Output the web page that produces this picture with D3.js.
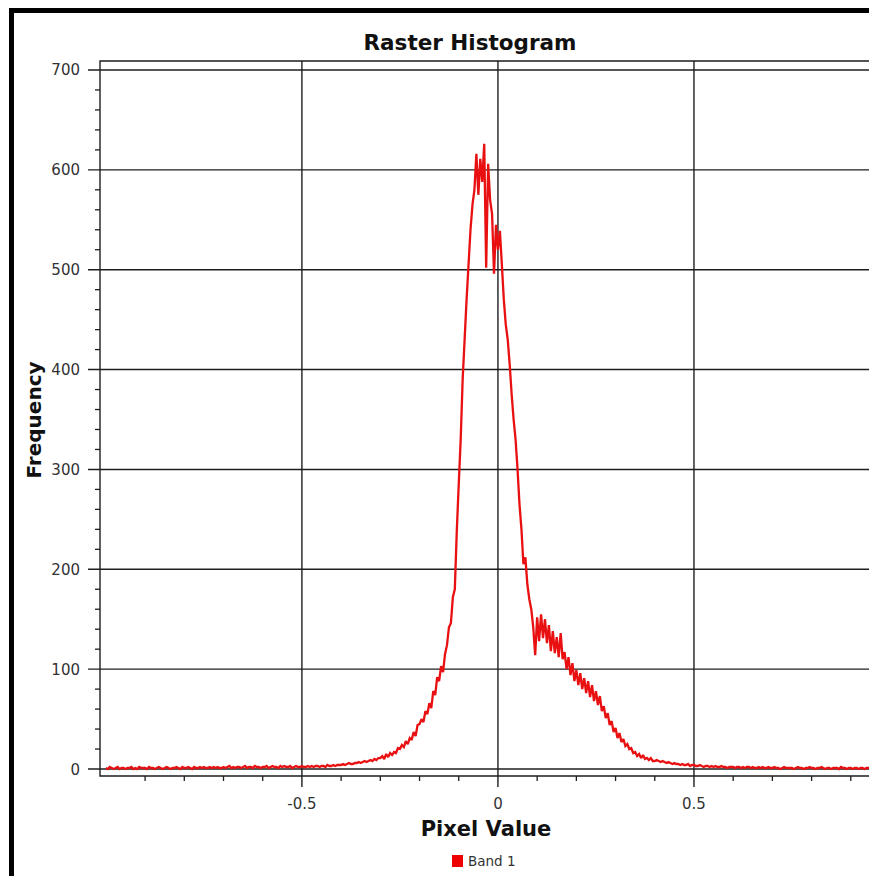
<!DOCTYPE html>
<html><head><meta charset="utf-8">
<script src="https://cdn.jsdelivr.net/npm/d3@7"></script>
<style>body{margin:0;background:#fff}svg{display:block}</style>
</head><body><svg id="c" width="869" height="876"></svg>
<script>
const title = "Raster Histogram";
const xLabel = "Pixel Value";
const yLabel = "Frequency";
const seriesName = "Band 1";
const xMajorTicks = [-0.5, 0, 0.5, 1.0];
const xLabelTicks = [-0.5, 0, 0.5];
const xTickLabels = ["-0.5", "0", "0.5"];
const xMinorTicks = [-0.9,-0.8,-0.7,-0.6,-0.4,-0.3,-0.2,-0.1,0.1,0.2,0.3,0.4,0.6,0.7,0.8,0.9];
const yMajorTicks = [0,100,200,300,400,500,600,700];
const yTickLabels = ["0","100","200","300","400","500","600","700"];
const yMinorTicks = [20,40,60,80,120,140,160,180,220,240,260,280,320,340,360,380,420,440,460,480,520,540,560,580,620,640,660,680];
const binStart = -1.0;
const binWidth = 0.005;
const counts = [
1,0,2,1,0,1,2,0,1,1,
0,1,1,2,0,1,0,2,1,1,
1,0,2,1,1,0,1,2,1,0,
1,2,1,0,1,1,2,1,0,2,
1,1,2,1,0,2,1,1,2,1,
2,1,1,2,1,2,1,2,1,1,
2,1,2,3,1,2,1,2,2,1,
2,3,1,2,2,1,3,2,2,1,
2,2,3,1,2,3,2,2,1,3,
2,3,2,2,3,1,2,3,2,2,
3,2,2,3,2,3,2,3,3,2,
3,3,2,4,3,3,4,3,4,4,
4,5,4,5,6,5,5,6,6,7,
6,7,8,7,8,9,8,10,9,11,
11,13,10,15,12,16,14,17,16,21,
20,24,22,28,25,31,29,37,33,44,
45,50,47,58,55,66,61,78,74,92,
88,103,97,115,124,142,146,172,180,238,
285,330,390,430,470,505,540,565,580,616,
575,611,588,626,502,606,570,556,496,545,
520,539,505,470,445,430,405,375,350,330,
300,265,240,205,212,185,170,160,142,114,
152,128,155,131,150,126,144,118,138,116,
132,112,136,110,117,100,112,94,106,88,
99,84,96,80,91,76,88,72,84,68,
78,64,73,58,63,51,56,44,48,37,
41,31,36,27,30,23,25,20,21,16,
17,13,15,11,14,10,11,9,11,8,
8,9,8,7,8,7,6,7,6,5,
6,5,5,4,5,4,4,5,3,4,
4,3,3,4,3,2,3,3,2,3,
2,3,2,2,3,2,2,1,2,2,
2,1,2,2,1,2,1,2,2,1,
2,1,1,2,1,2,1,1,2,1,
1,2,1,1,0,1,2,1,1,1,
1,0,1,2,1,1,0,1,1,2,
1,1,0,1,1,2,1,0,1,1,
0,1,1,1,0,2,1,1,0,1,
1,0,1,1,0,1,1,0,1,1,
0,1,1,0,1,0,1,1,0,1
];
const data = counts.map((c, i) => ({x: binStart + i * binWidth, y: c}));

const svg = d3.select("#c");
const W = 869, H = 876;
const pLeft = 100, pTop = 61, pBottom = 776, pRight = 890;
const x = d3.scaleLinear().domain([-1.015, 1.0]).range([pLeft, pRight]);
const y = d3.scaleLinear().domain([-7, 709]).range([pBottom, pTop]);
const gridColor = "#1e1e1e";
const font = "'DejaVu Sans', Verdana, sans-serif";

svg.append("rect").attr("width", W).attr("height", H).attr("fill", "#fff");

svg.append("path").attr("d", `M11.5,${H + 10}V10.5H${W + 10}`)
  .attr("fill", "none").attr("stroke", "#000").attr("stroke-width", 5);

const g = svg.append("g");

g.selectAll(".hg").data(yMajorTicks).join("line")
  .attr("x1", pLeft - 12).attr("x2", W + 5)
  .attr("y1", d => y(d)).attr("y2", d => y(d))
  .attr("stroke", gridColor).attr("stroke-width", 1.4);
g.selectAll(".vg").data(xMajorTicks).join("line")
  .attr("x1", d => x(d)).attr("x2", d => x(d))
  .attr("y1", pTop).attr("y2", pBottom + 11)
  .attr("stroke", gridColor).attr("stroke-width", 1.4);
g.selectAll(".xm").data(xMinorTicks).join("line")
  .attr("x1", d => x(d)).attr("x2", d => x(d))
  .attr("y1", pBottom).attr("y2", pBottom + 5)
  .attr("stroke", gridColor).attr("stroke-width", 1.3);
g.selectAll(".ym").data(yMinorTicks).join("line")
  .attr("x1", pLeft - 5).attr("x2", pLeft)
  .attr("y1", d => y(d)).attr("y2", d => y(d))
  .attr("stroke", gridColor).attr("stroke-width", 1.3);
g.append("path").attr("d", `M${W + 5},${pTop}H${pLeft}V${pBottom}H${W + 5}`)
  .attr("fill", "none").attr("stroke", gridColor).attr("stroke-width", 1.4);

svg.append("clipPath").attr("id", "clip").append("rect")
  .attr("x", pLeft).attr("y", pTop).attr("width", pRight - pLeft).attr("height", pBottom - pTop);

const line = d3.line().x(d => x(d.x)).y(d => y(d.y));
svg.append("path").datum(data)
  .attr("clip-path", "url(#clip)")
  .attr("d", line).attr("fill", "none")
  .attr("stroke", "#e81010").attr("stroke-width", 2.3)
  .attr("stroke-linejoin", "miter").attr("stroke-miterlimit", 2);

svg.selectAll(".yl").data(yMajorTicks).join("text")
  .attr("x", pLeft - 20).attr("y", d => y(d) + 5.5)
  .attr("text-anchor", "end").attr("font-family", font).attr("font-size", 15)
  .attr("fill", "#333").text((d, i) => yTickLabels[i]);
svg.selectAll(".xl").data(xLabelTicks).join("text")
  .attr("x", d => x(d)).attr("y", 809)
  .attr("text-anchor", "middle").attr("font-family", font).attr("font-size", 15)
  .attr("fill", "#333").text((d, i) => xTickLabels[i]);

svg.append("text").attr("x", 470).attr("y", 50).attr("text-anchor", "middle")
  .attr("font-family", font).attr("font-weight", "bold").attr("font-size", 21.5)
  .attr("fill", "#111").text(title);
svg.append("text").attr("x", 486).attr("y", 836).attr("text-anchor", "middle")
  .attr("font-family", font).attr("font-weight", "bold").attr("font-size", 21)
  .attr("fill", "#111").text(xLabel);
svg.append("text").attr("transform", "translate(41,420) rotate(-90)")
  .attr("text-anchor", "middle")
  .attr("font-family", font).attr("font-weight", "bold").attr("font-size", 20)
  .attr("fill", "#111").text(yLabel);

svg.append("rect").attr("x", 452).attr("y", 855).attr("width", 11).attr("height", 12)
  .attr("fill", "#e00");
svg.append("text").attr("x", 468).attr("y", 866)
  .attr("font-family", font).attr("font-size", 13.5).attr("fill", "#333").text(seriesName);
</script>
</body></html>
